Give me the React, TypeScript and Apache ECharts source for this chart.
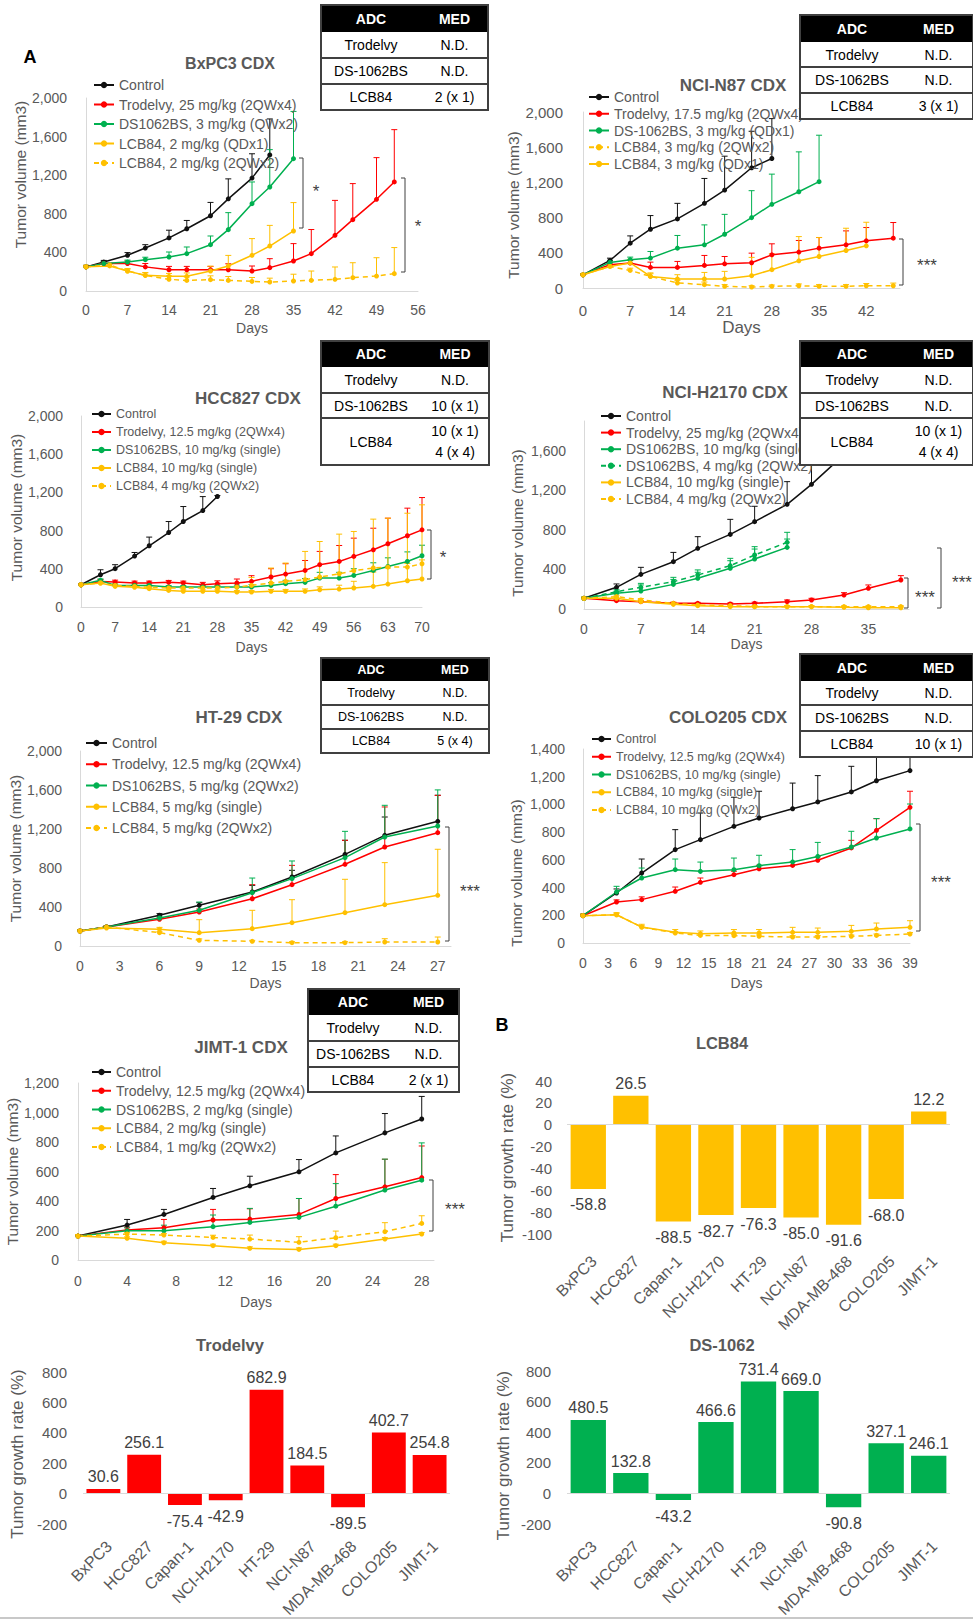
import React, { useEffect, useRef } from "react";
import * as echarts from "echarts";

// ---------- BxPC3 CDX ----------
const bxCtrlDays = [0, 3, 7, 10, 14, 17, 21, 24, 28, 31];
const bxCtrl = [250, 300, 370, 445, 550, 645, 780, 955, 1170, 1410];
const bxCtrlErr = [15, 17, 28, 35, 80, 86, 138, 207, 252, 373];
const bxTroDays = [0, 3, 7, 10, 14, 17, 21, 24, 28, 31, 35, 38, 42, 45, 49, 52];
const bxTro = [250, 285, 285, 250, 220, 220, 220, 220, 207, 242, 311, 387, 577, 739, 950, 1130];
const bxTroErr = [15, 20, 25, 35, 35, 35, 35, 62, 52, 93, 180, 250, 362, 374, 432, 542];
const bxDsDays = [0, 3, 7, 10, 14, 17, 21, 24, 28, 31, 35];
const bxDs = [250, 285, 300, 325, 352, 387, 480, 636, 905, 1078, 1371];
const bxDsErr = [15, 20, 20, 25, 52, 69, 90, 176, 225, 387, 490];
const bxL1Days = [0, 4, 7, 10, 14, 17, 21, 24, 28, 31, 35];
const bxL1 = [250, 260, 207, 162, 152, 152, 207, 259, 370, 466, 622];
const bxL1Err = [15, 20, 20, 25, 30, 35, 50, 110, 173, 214, 294];
const bxL2Days = [0, 4, 7, 10, 14, 17, 21, 24, 28, 31, 35, 38, 42, 45, 49, 52];
const bxL2 = [250, 270, 207, 162, 121, 110, 117, 110, 100, 93, 104, 110, 121, 138, 155, 180];
const bxL2Err = [15, 20, 25, 30, 35, 35, 40, 40, 40, 40, 70, 97, 128, 155, 190, 270];

// ---------- NCI-N87 CDX ----------
const n87CtrlDays = [0, 4, 7, 10, 14, 18, 21, 25, 28];
const n87Ctrl = [150, 313, 509, 668, 785, 962, 1113, 1366, 1472];
const n87CtrlErr = [10, 26, 83, 155, 177, 283, 385, 415, 453];
const n87TroDays = [0, 4, 7, 10, 14, 18, 21, 25, 28, 32, 35, 39, 42, 46];
const n87Tro = [150, 264, 283, 234, 234, 257, 275, 287, 377, 408, 453, 491, 536, 566];
const n87TroErr = [10, 20, 30, 60, 68, 113, 83, 109, 125, 132, 121, 158, 151, 178];
const n87DsDays = [0, 4, 7, 10, 14, 18, 21, 25, 28, 32, 35];
const n87Ds = [150, 291, 321, 340, 453, 491, 611, 800, 951, 1094, 1208];
const n87DsErr = [10, 20, 30, 75, 144, 226, 226, 306, 343, 453, 528];
const n87L2Days = [0, 4, 7, 10, 14, 18, 21, 25, 28, 32, 35, 39, 42, 46];
const n87L2 = [150, 245, 200, 132, 57, 38, 19, 11, 19, 26, 19, 19, 26, 26];
const n87L2Err = [10, 20, 25, 30, 30, 30, 20, 15, 15, 20, 20, 20, 25, 30];
const n87L1Days = [0, 4, 7, 10, 14, 18, 21, 25, 28, 32, 35, 39, 42];
const n87L1 = [150, 245, 285, 132, 102, 102, 102, 140, 208, 309, 358, 426, 479];
const n87L1Err = [10, 20, 40, 40, 49, 75, 87, 208, 181, 275, 215, 253, 268];

// ---------- HCC827 CDX ----------
const hcCtrlDays = [0, 4, 7, 11, 14, 18, 21, 25, 28];
const hcCtrl = [233, 338, 401, 533, 641, 780, 895, 1010, 1157];
const hcCtrlErr = [10, 52, 42, 38, 91, 115, 157, 146, 10];
const hcDays = [0, 4, 7, 11, 14, 18, 21, 25, 28, 32, 35, 39, 42, 46, 49, 53, 56, 60, 63, 67, 70];
const hcTro = [233, 268, 261, 251, 251, 258, 251, 233, 244, 251, 268, 314, 345, 383, 443, 477, 530, 599, 662, 746, 808];
const hcTroErr = [10, 20, 20, 20, 20, 20, 20, 25, 30, 42, 60, 87, 108, 104, 139, 167, 191, 226, 268, 289, 338];
const hcDs = [233, 279, 226, 226, 226, 209, 209, 209, 209, 209, 209, 226, 244, 258, 303, 303, 331, 383, 425, 477, 537];
const hcDsErr = [10, 15, 15, 15, 15, 15, 15, 15, 15, 20, 25, 30, 35, 40, 60, 60, 70, 80, 90, 100, 110];
const hcL1 = [233, 251, 216, 206, 192, 174, 164, 164, 164, 157, 157, 164, 164, 164, 181, 188, 199, 216, 240, 275, 293];
const hcL1Err = [10, 15, 15, 15, 15, 15, 15, 15, 15, 15, 15, 20, 20, 25, 30, 40, 70, 150, 167, 180, 200];
const hcL2 = [233, 251, 226, 216, 206, 199, 199, 199, 199, 209, 226, 251, 268, 286, 314, 348, 380, 408, 418, 418, 453];
const hcL2Err = [10, 15, 15, 15, 15, 15, 15, 15, 20, 40, 84, 157, 192, 296, 372, 415, 411, 512, 512, 564, 617];

// ---------- NCI-H2170 CDX ----------
const h2CtrlDays = [0, 4, 7, 11, 14, 18, 21, 25, 28, 32, 35];
const h2Ctrl = [108, 219, 350, 478, 613, 754, 883, 1058, 1260, 1560, 1800];
const h2CtrlErr = [10, 34, 71, 94, 118, 152, 155, 229, 195, 200, 200];
const h2DsDays = [0, 4, 7, 11, 14, 18, 21, 25];
const h2Ds1 = [108, 158, 182, 249, 310, 411, 505, 623];
const h2Ds1Err = [10, 20, 61, 50, 61, 77, 101, 84];
const h2Ds2 = [108, 175, 219, 276, 344, 438, 546, 674];
const h2Ds2Err = [10, 20, 40, 44, 51, 74, 84, 101];
const h2Days = [0, 4, 7, 11, 14, 18, 21, 25, 28, 32, 35, 39];
const h2Tro = [108, 84, 74, 57, 57, 51, 57, 74, 91, 141, 209, 293];
const h2TroErr = [10, 10, 10, 10, 10, 10, 12, 17, 17, 24, 34, 44];
const h2L1 = [108, 108, 74, 47, 34, 24, 24, 24, 24, 17, 13, 13];
const h2L1Err = [10, 10, 10, 10, 10, 8, 8, 8, 8, 8, 8, 8];
const h2L2 = [108, 125, 91, 57, 40, 34, 24, 24, 24, 24, 24, 24];
const h2L2Err = [10, 15, 15, 12, 10, 8, 8, 8, 8, 8, 8, 8];

// ---------- HT-29 CDX ----------
const htDays = [0, 2, 6, 9, 13, 16, 20, 23, 27];
const htCtrl = [154, 195, 315, 417, 554, 708, 940, 1135, 1279];
const htCtrlErr = [10, 10, 17, 27, 68, 68, 144, 188, 267];
const htTro = [154, 195, 274, 349, 485, 629, 838, 1015, 1162];
const htTroErr = [10, 10, 15, 30, 144, 198, 246, 411, 383];
const htDs = [154, 195, 287, 366, 547, 691, 906, 1118, 1231];
const htDsErr = [10, 10, 20, 85, 150, 181, 270, 325, 370];
const htL1 = [154, 185, 171, 137, 178, 239, 342, 424, 520];
const htL1Err = [10, 10, 20, 133, 188, 236, 342, 431, 472];
const htL2 = [154, 195, 137, 58, 48, 34, 34, 41, 41];
const htL2Err = [10, 10, 10, 15, 10, 10, 10, 34, 51];

// ---------- COLO205 CDX ----------
const coDays = [0, 4, 7, 11, 14, 18, 21, 25, 28, 32, 35, 39];
const coCtrl = [197, 361, 505, 674, 746, 842, 902, 969, 1018, 1090, 1171, 1244];
const coCtrlErr = [10, 29, 101, 144, 192, 210, 193, 185, 190, 185, 200, 164];
const coTro = [197, 296, 313, 373, 438, 493, 536, 560, 597, 686, 813, 979];
const coTroErr = [10, 15, 20, 31, 31, 25, 25, 25, 25, 55, 84, 116];
const coDs = [197, 368, 469, 529, 517, 529, 558, 585, 625, 693, 758, 823];
const coDsErr = [10, 41, 72, 77, 67, 84, 75, 89, 101, 113, 140, 180];
const coL1 = [197, 204, 115, 77, 67, 72, 72, 77, 77, 84, 101, 113];
const coL1Err = [10, 15, 20, 20, 20, 25, 25, 36, 31, 43, 43, 48];
const coL2 = [197, 204, 115, 72, 55, 53, 48, 43, 43, 48, 55, 65];
const coL2Err = [10, 10, 10, 10, 10, 10, 10, 10, 10, 10, 10, 10];

// ---------- JIMT-1 CDX ----------
const jmDays = [0, 4, 7, 11, 14, 18, 21, 25, 28];
const jmCtrl = [162, 237, 309, 424, 503, 598, 726, 862, 956];
const jmCtrlErr = [10, 38, 34, 61, 65, 83, 115, 131, 153];
const jmTro = [162, 203, 219, 271, 277, 309, 417, 496, 559];
const jmTroErr = [10, 20, 56, 72, 70, 108, 162, 187, 214];
const jmDs = [162, 198, 198, 226, 255, 289, 365, 474, 541];
const jmDsErr = [10, 20, 38, 79, 95, 128, 153, 210, 253];
const jmL1 = [162, 147, 117, 97, 79, 72, 97, 142, 176];
const jmL1Err = [10, 10, 10, 10, 10, 10, 10, 10, 10];
const jmL2 = [162, 176, 169, 153, 142, 120, 151, 192, 248];
const jmL2Err = [10, 10, 10, 15, 27, 38, 45, 61, 52];

// ---------- Panel B bars ----------
const barCats = ["BxPC3", "HCC827", "Capan-1", "NCI-H2170", "HT-29", "NCI-N87", "MDA-MB-468", "COLO205", "JIMT-1"];
const lcbVals = [-58.8, 26.5, -88.5, -82.7, -76.3, -85.0, -91.6, -68.0, 12.2];
const troVals = [30.6, 256.1, -75.4, -42.9, 682.9, 184.5, -89.5, 402.7, 254.8];
const dsVals = [480.5, 132.8, -43.2, 466.6, 731.4, 669.0, -90.8, 327.1, 246.1];

// ---------- MED tables ----------
const tblBx = [["Trodelvy", "N.D."], ["DS-1062BS", "N.D."], ["LCB84", "2 (x 1)"]];
const tblN87 = [["Trodelvy", "N.D."], ["DS-1062BS", "N.D."], ["LCB84", "3 (x 1)"]];
const tblHc = [["Trodelvy", "N.D."], ["DS-1062BS", "10 (x 1)"], ["LCB84", "10 (x 1)\n4 (x 4)"]];
const tblH2 = [["Trodelvy", "N.D."], ["DS-1062BS", "N.D."], ["LCB84", "10 (x 1)\n4 (x 4)"]];
const tblHt = [["Trodelvy", "N.D."], ["DS-1062BS", "N.D."], ["LCB84", "5 (x 4)"]];
const tblCo = [["Trodelvy", "N.D."], ["DS-1062BS", "N.D."], ["LCB84", "10 (x 1)"]];
const tblJm = [["Trodelvy", "N.D."], ["DS-1062BS", "N.D."], ["LCB84", "2 (x 1)"]];

// ---------- styles ----------
const FONT = "'Liberation Sans', Arial, sans-serif";
const GRAY = "#595959";
const AXIS = "#D9D9D9";
const DARK = "#404040";
const RED = "#FF0000";
const GREEN = "#00B050";
const YELLOW = "#FFC000";
const BLACK = "#111111";

type Ser = { name: string; d: number[]; v: number[]; e: number[]; c: string; dash?: boolean };
type LinePanel = {
  title: string; tx: number; ty: number; tFont: number;
  grid: { left: number; top: number; width: number; height: number };
  xMax: number; xInt: number; hideX: boolean; yMax: number; yInt: number; hideY: boolean;
  tickFont: number; xMargin: number; yMargin: number; daysFont: number; daysGap: number; yNameGap: number; yNameShift: number;
  legend: { left: number; top: number; gap: number; iw: number; font: number; lh: number };
  series: Ser[];
};

const linePanels: LinePanel[] = [
  {
    title: "BxPC3 CDX", tx: 230, ty: 63, tFont: 16,
    grid: { left: 86, top: 98, width: 332, height: 193 },
    xMax: 56, xInt: 7, hideX: false, yMax: 2000, yInt: 400, hideY: false,
    tickFont: 14, xMargin: 12, yMargin: 19, daysFont: 14, daysGap: 30, yNameGap: 54, yNameShift: -20,
    legend: { left: 93, top: 77, gap: 3.5, iw: 20, font: 14, lh: 16 },
    series: [
      { name: "Control", d: bxCtrlDays, v: bxCtrl, e: bxCtrlErr, c: BLACK },
      { name: "Trodelvy, 25 mg/kg (2QWx4)", d: bxTroDays, v: bxTro, e: bxTroErr, c: RED },
      { name: "DS1062BS, 3 mg/kg (QWx2)", d: bxDsDays, v: bxDs, e: bxDsErr, c: GREEN },
      { name: "LCB84, 2 mg/kg (QDx1)", d: bxL1Days, v: bxL1, e: bxL1Err, c: YELLOW },
      { name: "LCB84, 2 mg/kg (2QWx2)", d: bxL2Days, v: bxL2, e: bxL2Err, c: YELLOW, dash: true },
    ],
  },
  {
    title: "NCI-N87 CDX", tx: 733, ty: 85, tFont: 17,
    grid: { left: 583, top: 112, width: 317, height: 176 },
    xMax: 47, xInt: 7, hideX: true, yMax: 2000, yInt: 400, hideY: false,
    tickFont: 15, xMargin: 15, yMargin: 20, daysFont: 17, daysGap: 31, yNameGap: 62, yNameShift: 5,
    legend: { left: 588, top: 89.5, gap: 1.75, iw: 20, font: 14, lh: 15 },
    series: [
      { name: "Control", d: n87CtrlDays, v: n87Ctrl, e: n87CtrlErr, c: BLACK },
      { name: "Trodelvy, 17.5 mg/kg (2QWx4)", d: n87TroDays, v: n87Tro, e: n87TroErr, c: RED },
      { name: "DS-1062BS, 3 mg/kg (QDx1)", d: n87DsDays, v: n87Ds, e: n87DsErr, c: GREEN },
      { name: "LCB84, 3 mg/kg (2QWx2)", d: n87L2Days, v: n87L2, e: n87L2Err, c: YELLOW, dash: true },
      { name: "LCB84, 3 mg/kg (QDx1)", d: n87L1Days, v: n87L1, e: n87L1Err, c: YELLOW },
    ],
  },
  {
    title: "HCC827 CDX", tx: 248, ty: 398, tFont: 17,
    grid: { left: 81, top: 416, width: 341, height: 191 },
    xMax: 70, xInt: 7, hideX: false, yMax: 2000, yInt: 400, hideY: false,
    tickFont: 14, xMargin: 13, yMargin: 18, daysFont: 14, daysGap: 33, yNameGap: 50, yNameShift: -4,
    legend: { left: 91, top: 406.5, gap: 3, iw: 19, font: 12.5, lh: 15 },
    series: [
      { name: "Control", d: hcCtrlDays, v: hcCtrl, e: hcCtrlErr, c: BLACK },
      { name: "Trodelvy, 12.5 mg/kg (2QWx4)", d: hcDays, v: hcTro, e: hcTroErr, c: RED },
      { name: "DS1062BS, 10 mg/kg (single)", d: hcDays, v: hcDs, e: hcDsErr, c: GREEN },
      { name: "LCB84, 10 mg/kg (single)", d: hcDays, v: hcL1, e: hcL1Err, c: YELLOW },
      { name: "LCB84, 4 mg/kg (2QWx2)", d: hcDays, v: hcL2, e: hcL2Err, c: YELLOW, dash: true },
    ],
  },
  {
    title: "NCI-H2170 CDX", tx: 725, ty: 392, tFont: 17,
    grid: { left: 584, top: 421, width: 325, height: 188 },
    xMax: 40, xInt: 7, hideX: true, yMax: 1900, yInt: 400, hideY: true,
    tickFont: 14, xMargin: 13, yMargin: 18, daysFont: 14, daysGap: 28, yNameGap: 59, yNameShift: 8,
    legend: { left: 600, top: 408.5, gap: 1.6, iw: 20, font: 14, lh: 15 },
    series: [
      { name: "Control", d: h2CtrlDays, v: h2Ctrl, e: h2CtrlErr, c: BLACK },
      { name: "Trodelvy, 25 mg/kg (2QWx4)", d: h2Days, v: h2Tro, e: h2TroErr, c: RED },
      { name: "DS1062BS, 10 mg/kg (single)", d: h2DsDays, v: h2Ds1, e: h2Ds1Err, c: GREEN },
      { name: "DS1062BS, 4 mg/kg (2QWx2)", d: h2DsDays, v: h2Ds2, e: h2Ds2Err, c: GREEN, dash: true },
      { name: "LCB84, 10 mg/kg (single)", d: h2Days, v: h2L1, e: h2L1Err, c: YELLOW },
      { name: "LCB84, 4 mg/kg (2QWx2)", d: h2Days, v: h2L2, e: h2L2Err, c: YELLOW, dash: true },
    ],
  },
  {
    title: "HT-29 CDX", tx: 239, ty: 717, tFont: 17,
    grid: { left: 80, top: 751, width: 371, height: 195 },
    xMax: 28, xInt: 3, hideX: true, yMax: 2000, yInt: 400, hideY: false,
    tickFont: 14, xMargin: 13, yMargin: 18, daysFont: 14, daysGap: 30, yNameGap: 54, yNameShift: 0,
    legend: { left: 85, top: 735, gap: 5.25, iw: 21, font: 14, lh: 16 },
    series: [
      { name: "Control", d: htDays, v: htCtrl, e: htCtrlErr, c: BLACK },
      { name: "Trodelvy, 12.5 mg/kg (2QWx4)", d: htDays, v: htTro, e: htTroErr, c: RED },
      { name: "DS1062BS, 5 mg/kg (2QWx2)", d: htDays, v: htDs, e: htDsErr, c: GREEN },
      { name: "LCB84, 5 mg/kg (single)", d: htDays, v: htL1, e: htL1Err, c: YELLOW },
      { name: "LCB84, 5 mg/kg (2QWx2)", d: htDays, v: htL2, e: htL2Err, c: YELLOW, dash: true },
    ],
  },
  {
    title: "COLO205 CDX", tx: 728, ty: 717, tFont: 17,
    grid: { left: 583, top: 749, width: 327, height: 194 },
    xMax: 39, xInt: 3, hideX: false, yMax: 1400, yInt: 200, hideY: false,
    tickFont: 14, xMargin: 13, yMargin: 18, daysFont: 14, daysGap: 33, yNameGap: 59, yNameShift: 27,
    legend: { left: 591, top: 731.5, gap: 2.75, iw: 19, font: 12.5, lh: 15 },
    series: [
      { name: "Control", d: coDays, v: coCtrl, e: coCtrlErr, c: BLACK },
      { name: "Trodelvy, 12.5 mg/kg (2QWx4)", d: coDays, v: coTro, e: coTroErr, c: RED },
      { name: "DS1062BS, 10 mg/kg (single)", d: coDays, v: coDs, e: coDsErr, c: GREEN },
      { name: "LCB84, 10 mg/kg (single)", d: coDays, v: coL1, e: coL1Err, c: YELLOW },
      { name: "LCB84, 10 mg/kg (QWx2)", d: coDays, v: coL2, e: coL2Err, c: YELLOW, dash: true },
    ],
  },
  {
    title: "JIMT-1 CDX", tx: 241, ty: 1047, tFont: 17,
    grid: { left: 78, top: 1083, width: 356, height: 177 },
    xMax: 29, xInt: 4, hideX: true, yMax: 1200, yInt: 200, hideY: false,
    tickFont: 14, xMargin: 14, yMargin: 19, daysFont: 14, daysGap: 35, yNameGap: 53, yNameShift: 0,
    legend: { left: 91, top: 1064, gap: 2.75, iw: 19, font: 14, lh: 16 },
    series: [
      { name: "Control", d: jmDays, v: jmCtrl, e: jmCtrlErr, c: BLACK },
      { name: "Trodelvy, 12.5 mg/kg (2QWx4)", d: jmDays, v: jmTro, e: jmTroErr, c: RED },
      { name: "DS1062BS, 2 mg/kg (single)", d: jmDays, v: jmDs, e: jmDsErr, c: GREEN },
      { name: "LCB84, 2 mg/kg (single)", d: jmDays, v: jmL1, e: jmL1Err, c: YELLOW },
      { name: "LCB84, 1 mg/kg (2QWx2)", d: jmDays, v: jmL2, e: jmL2Err, c: YELLOW, dash: true },
    ],
  },
];

type BarPanel = {
  title: string; tx: number; ty: number;
  grid: { left: number; top: number; width: number; height: number };
  vals: number[]; color: string; yMin: number; yMax: number; yInt: number;
  yNameGap: number; yNameShift: number; yMargin: number; catMargin: number;
};

const barPanels: BarPanel[] = [
  { title: "LCB84", tx: 722, ty: 1043, grid: { left: 567, top: 1081, width: 383, height: 153 }, vals: lcbVals, color: YELLOW, yMin: -100, yMax: 40, yInt: 20, yNameGap: 51, yNameShift: 0, yMargin: 15, catMargin: 19 },
  { title: "Trodelvy", tx: 230, ty: 1345, grid: { left: 83, top: 1372, width: 367, height: 164 }, vals: troVals, color: RED, yMin: -200, yMax: 800, yInt: 200, yNameGap: 57, yNameShift: 6, yMargin: 16, catMargin: 14 },
  { title: "DS-1062", tx: 722, ty: 1345, grid: { left: 567, top: 1371, width: 383, height: 165 }, vals: dsVals, color: GREEN, yMin: -200, yMax: 800, yInt: 200, yNameGap: 55, yNameShift: 8, yMargin: 16, catMargin: 14 },
];

type TableSpec = { x: number; y: number; w: number; c1: number; rh: number[]; rows: string[][]; fs: number };
const tables: TableSpec[] = [
  { x: 321, y: 5, w: 167, c1: 100, rh: [27, 26, 26, 26], rows: tblBx, fs: 14 },
  { x: 800, y: 15, w: 173, c1: 104, rh: [27, 25, 26, 26], rows: tblN87, fs: 14 },
  { x: 321, y: 341, w: 168, c1: 100, rh: [26, 26, 25, 47], rows: tblHc, fs: 14 },
  { x: 800, y: 341, w: 173, c1: 104, rh: [26, 26, 25, 47], rows: tblH2, fs: 14 },
  { x: 321, y: 658, w: 168, c1: 100, rh: [23, 24, 24, 24], rows: tblHt, fs: 12.5 },
  { x: 800, y: 654, w: 173, c1: 104, rh: [27, 24, 26, 26], rows: tblCo, fs: 14 },
  { x: 308, y: 989, w: 151, c1: 90, rh: [26, 26, 26, 25], rows: tblJm, fs: 14 },
];

// significance brackets: x, y1, y2, label, label x, label y
const brackets: [number, number, number, string, number, number][] = [
  [303, 158, 228, "*", 316, 191],
  [405, 178, 272, "*", 418, 226],
  [903, 239, 285, "***", 927, 265],
  [431, 530, 579, "*", 443, 557],
  [908, 578, 608, "***", 925, 597],
  [941, 548, 608, "***", 962, 582],
  [449, 827, 941, "***", 470, 891],
  [920, 824, 931, "***", 941, 882],
  [433, 1180, 1231, "***", 455, 1209],
];

const fmtK = (v: number) => String(v).replace(/\B(?=(\d{3})+(?!\d))/g, ",");

// padding that moves a 90°-rotated axis name up (negative) or down (positive)
const namePad = (shift: number) => (shift < 0 ? [0, 0, 0, -2 * shift] : [0, 2 * shift, 0, 0]);

function txt(x: number, y: number, text: string, fs: number, fill: string, bold = false, z = 102, align = "center") {
  return {
    type: "text", x, y, z, silent: true,
    style: {
      text, fill, fontSize: fs, fontFamily: FONT, fontWeight: bold ? "bold" : "normal",
      textAlign: align, textVerticalAlign: "middle", align, verticalAlign: "middle", lineHeight: fs * 1.45,
    },
  };
}

function buildTable(t: TableSpec) {
  const els: any[] = [];
  const total = t.rh.reduce((a, b) => a + b, 0);
  const cx1 = t.x + t.c1 / 2;
  const cx2 = t.x + t.c1 + (t.w - t.c1) / 2;
  els.push({ type: "rect", z: 100, silent: true, shape: { x: t.x, y: t.y, width: t.w, height: total }, style: { fill: "#ffffff", stroke: "none" } });
  els.push({ type: "rect", z: 101, silent: true, shape: { x: t.x, y: t.y, width: t.w, height: t.rh[0] }, style: { fill: "#000000" } });
  els.push(txt(cx1, t.y + t.rh[0] / 2, "ADC", t.fs, "#ffffff", true));
  els.push(txt(cx2, t.y + t.rh[0] / 2, "MED", t.fs, "#ffffff", true));
  let cy = t.y + t.rh[0];
  t.rows.forEach((r, i) => {
    const h = t.rh[i + 1];
    if (i > 0) {
      els.push({ type: "line", z: 101, silent: true, shape: { x1: t.x, y1: cy, x2: t.x + t.w, y2: cy }, style: { stroke: DARK, lineWidth: 2 } });
    }
    els.push(txt(cx1, cy + h / 2, r[0], t.fs, "#000000"));
    els.push(txt(cx2, cy + h / 2, r[1], t.fs, "#000000"));
    cy += h;
  });
  els.push({ type: "rect", z: 103, silent: true, shape: { x: t.x, y: t.y, width: t.w, height: total }, style: { fill: "none", stroke: DARK, lineWidth: 2 } });
  return els;
}

const errRender = (color: string) => (params: any, api: any) => {
  const x = api.value(0);
  const y = api.value(1);
  const e = api.value(2);
  const p0 = api.coord([x, y]);
  const p1 = api.coord([x, y + e]);
  const st = { stroke: color, lineWidth: 1 };
  return {
    type: "group",
    children: [
      { type: "line", shape: { x1: p0[0], y1: p0[1], x2: p1[0], y2: p1[1] }, style: st },
      { type: "line", shape: { x1: p1[0] - 3, y1: p1[1], x2: p1[0] + 3, y2: p1[1] }, style: st },
    ],
  };
};

function buildOption() {
  const grid: any[] = [];
  const xAxis: any[] = [];
  const yAxis: any[] = [];
  const series: any[] = [];
  const legend: any[] = [];
  const graphics: any[] = [];

  linePanels.forEach((p, i) => {
    grid.push({ ...p.grid, containLabel: false });
    xAxis.push({
      gridIndex: i, type: "value", min: 0, max: p.xMax, interval: p.xInt,
      axisLine: { show: true, lineStyle: { color: AXIS, width: 1 } },
      axisTick: { show: false }, splitLine: { show: false },
      axisLabel: { fontSize: p.tickFont, color: GRAY, fontFamily: FONT, margin: p.xMargin, showMaxLabel: !p.hideX },
      name: "Days", nameLocation: "middle", nameGap: p.daysGap,
      nameTextStyle: { fontSize: p.daysFont, color: GRAY, fontFamily: FONT },
    });
    yAxis.push({
      gridIndex: i, type: "value", min: 0, max: p.yMax, interval: p.yInt,
      axisLine: { show: true, lineStyle: { color: AXIS, width: 1 } },
      axisTick: { show: false }, splitLine: { show: false },
      axisLabel: { fontSize: p.tickFont, color: GRAY, fontFamily: FONT, margin: p.yMargin, showMaxLabel: !p.hideY, formatter: (v: number) => fmtK(v) },
      name: "Tumor volume (mm3)", nameLocation: "middle", nameGap: p.yNameGap,
      nameTextStyle: { fontSize: 15.5, color: GRAY, fontFamily: FONT, padding: namePad(p.yNameShift) },
    });
    p.series.forEach((s, k) => {
      series.push({
        type: "custom", name: `err-${i}-${k}`, xAxisIndex: i, yAxisIndex: i, silent: true, z: 2,
        data: s.d.map((d, j) => [d, s.v[j], s.e[j]]),
        encode: { x: 0, y: 1 },
        renderItem: errRender(s.c),
      });
      series.push({
        type: "line", name: s.name, xAxisIndex: i, yAxisIndex: i, z: 3,
        data: s.d.map((d, j) => [d, s.v[j]]),
        symbol: "circle", symbolSize: 5, showSymbol: true,
        itemStyle: { color: s.c },
        lineStyle: { color: s.c, width: 1.5, type: s.dash ? [5, 4] : "solid" },
      });
    });
    legend.push({
      data: p.series.map((s) => s.name),
      orient: "vertical", left: p.legend.left, top: p.legend.top, padding: 0,
      itemGap: p.legend.gap, itemWidth: p.legend.iw, itemHeight: 8,
      selectedMode: false,
      textStyle: { fontSize: p.legend.font, color: GRAY, fontFamily: FONT, lineHeight: p.legend.lh },
    });
    graphics.push(txt(p.tx, p.ty, p.title, p.tFont, GRAY, true, 50));
  });

  barPanels.forEach((b, j) => {
    const gi = linePanels.length + j;
    grid.push({ ...b.grid, containLabel: false });
    xAxis.push({
      gridIndex: gi, type: "category", data: barCats,
      axisLine: { show: false, onZero: false }, axisTick: { show: false },
      axisLabel: { rotate: 45, fontSize: 16, color: GRAY, fontFamily: FONT, margin: b.catMargin, interval: 0, verticalAlign: "top" },
    });
    yAxis.push({
      gridIndex: gi, type: "value", min: b.yMin, max: b.yMax, interval: b.yInt,
      axisLine: { show: false }, axisTick: { show: false }, splitLine: { show: false },
      axisLabel: { fontSize: 15, color: GRAY, fontFamily: FONT, margin: b.yMargin },
      name: "Tumor growth rate (%)", nameLocation: "middle", nameGap: b.yNameGap,
      nameTextStyle: { fontSize: 17, color: GRAY, fontFamily: FONT, padding: namePad(b.yNameShift) },
    });
    series.push({
      type: "bar", name: b.title, xAxisIndex: gi, yAxisIndex: gi,
      barCategoryGap: "17%",
      itemStyle: { color: b.color },
      data: b.vals.map((v) => ({ value: v, label: { position: v >= 0 ? "top" : "bottom", distance: v >= 0 ? 4 : 8 } })),
      label: { show: true, fontSize: 16, color: DARK, fontFamily: FONT, formatter: (pp: any) => Number(pp.value).toFixed(1) },
      markLine: {
        silent: true, symbol: "none", label: { show: false },
        lineStyle: { color: AXIS, type: "solid", width: 1 },
        data: [{ yAxis: 0 }],
      },
    });
    graphics.push(txt(b.tx, b.ty, b.title, 16.5, GRAY, true, 50));
  });

  tables.forEach((t) => graphics.push(...buildTable(t)));

  brackets.forEach(([x, y1, y2, lab, lx, ly]) => {
    graphics.push({
      type: "polyline", z: 60, silent: true,
      shape: { points: [[x - 4, y1], [x, y1], [x, y2], [x - 4, y2]] },
      style: { stroke: DARK, lineWidth: 1, fill: "none" },
    });
    graphics.push(txt(lx, ly, lab, 17, DARK, false, 60));
  });

  graphics.push(txt(30, 57, "A", 18, "#000000", true, 60));
  graphics.push(txt(502, 1025, "B", 18, "#000000", true, 60));
  graphics.push({ type: "line", z: 60, silent: true, shape: { x1: 0, y1: 1618, x2: 973, y2: 1618 }, style: { stroke: "#C8C8C8", lineWidth: 2 } });

  return {
    animation: false,
    backgroundColor: "#ffffff",
    textStyle: { fontFamily: FONT },
    grid, xAxis, yAxis, series, legend,
    graphic: { elements: graphics },
  };
}

export default function App() {
  const ref = useRef<HTMLDivElement>(null);
  useEffect(() => {
    document.body.style.margin = "0";
    if (!ref.current) return;
    const chart = echarts.init(ref.current, undefined, { renderer: "svg" });
    chart.setOption(buildOption() as any);
    return () => chart.dispose();
  }, []);
  return <div ref={ref} style={{ width: 973, height: 1620 }} />;
}
